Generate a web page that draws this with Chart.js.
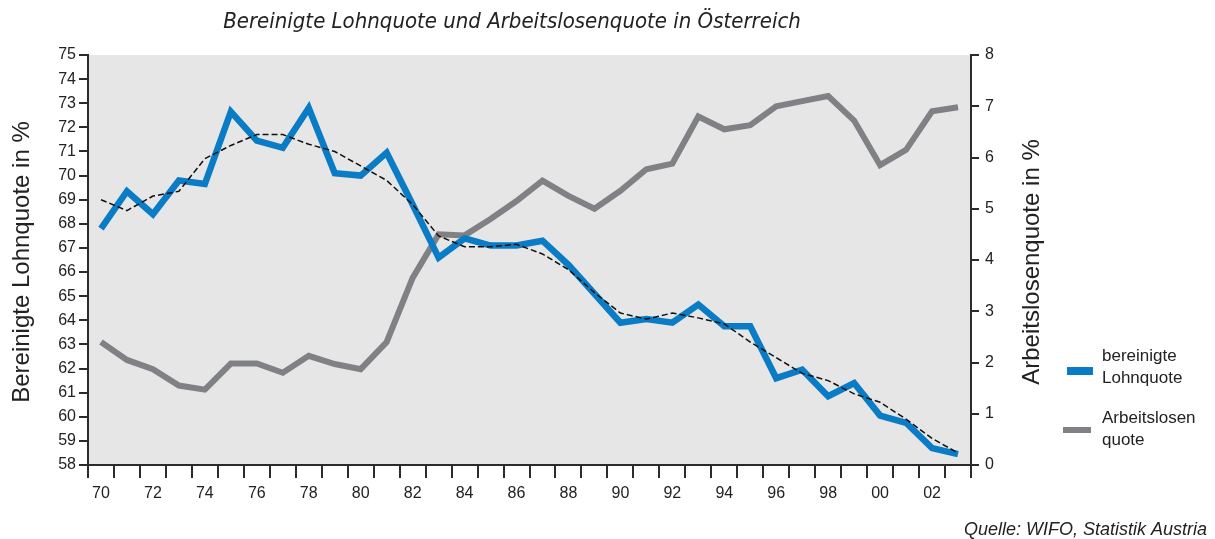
<!DOCTYPE html>
<html>
<head>
<meta charset="utf-8">
<script src="https://cdn.jsdelivr.net/npm/chart.js@4/dist/chart.umd.min.js"></script>
<style>
  html, body { margin: 0; padding: 0; background: #fff; }
  canvas { display: block; }
</style>
</head>
<body>
<canvas id="chart" width="1215" height="539"></canvas>
<script>
// ── Data ───────────────────────────────────────────────────────────────────
const years = ['70','71','72','73','74','75','76','77','78','79',
               '80','81','82','83','84','85','86','87','88','89',
               '90','91','92','93','94','95','96','97','98','99',
               '00','01','02','03'];

// bereinigte Lohnquote, % (left axis)
const lohnquote = [67.8, 69.35, 68.4, 69.8, 69.65, 72.65, 71.45, 71.15, 72.8, 70.1,
                   70.0, 70.95, 68.8, 66.6, 67.4, 67.1, 67.1, 67.3, 66.3, 65.1,
                   63.9, 64.05, 63.9, 64.65, 63.75, 63.75, 61.6, 61.95, 60.85, 61.4,
                   60.05, 59.75, 58.7, 58.45];

// trend of the Lohnquote (dashed, left axis)
const lohnTrend = [69.0, 68.55, 69.15, 69.35, 70.7, 71.25, 71.7, 71.7, 71.3, 71.0,
                   70.4, 69.8, 68.8, 67.5, 67.05, 67.05, 67.15, 66.75, 66.1, 65.15,
                   64.3, 64.05, 64.3, 64.1, 63.85, 63.1, 62.45, 61.8, 61.5, 60.95,
                   60.6, 59.9, 59.1, 58.5];

// Arbeitslosenquote, % (right axis)
const alq = [2.4, 2.05, 1.87, 1.55, 1.47, 1.98, 1.98, 1.8, 2.13, 1.97,
             1.87, 2.4, 3.65, 4.5, 4.48, 4.8, 5.15, 5.55, 5.25, 5.0,
             5.35, 5.77, 5.88, 6.8, 6.55, 6.63, 7.0, 7.1, 7.2, 6.72,
             5.85, 6.15, 6.9, 6.98];

// ── Look ───────────────────────────────────────────────────────────────────
const BLUE = '#0a7cc6';
const GREY = '#808184';
const INK  = '#222';
const AXIS = '#2b2b2b';
const PLOT_BG = '#e6e6e6';
const SANS = "'Liberation Sans', Arial, sans-serif";
const COND = "'DejaVu Sans Condensed', 'Liberation Sans Narrow', sans-serif";

// plot box in canvas pixels
const BOX = { left: 88, right: 971, top: 55, bottom: 465 };
const W = 1215, H = 539;

// fill the plot area, then all the free text around it
const decor = {
  id: 'decor',
  beforeDraw(chart) {
    const { ctx, chartArea: a } = chart;
    ctx.save();
    ctx.fillStyle = PLOT_BG;
    ctx.fillRect(a.left, a.top, a.right - a.left, a.bottom - a.top);
    ctx.restore();
  },
  afterDraw(chart) {
    const { ctx } = chart;
    ctx.save();
    ctx.fillStyle = INK;

    // title
    ctx.font = "italic 22px " + COND;
    ctx.textAlign = 'center';
    ctx.textBaseline = 'middle';
    ctx.fillText('Bereinigte Lohnquote und Arbeitslosenquote in Österreich', 512, 22);

    // axis titles, both reading bottom-to-top
    ctx.font = "24px " + SANS;
    ctx.save();
    ctx.translate(22, 262);
    ctx.rotate(-Math.PI / 2);
    ctx.fillText('Bereinigte Lohnquote in %', 0, 0);
    ctx.restore();
    ctx.save();
    ctx.translate(1032, 262);
    ctx.rotate(-Math.PI / 2);
    ctx.fillText('Arbeitslosenquote in %', 0, 0);
    ctx.restore();

    // legend
    ctx.fillStyle = BLUE;
    ctx.fillRect(1067, 367, 26, 8);
    ctx.fillStyle = GREY;
    ctx.fillRect(1063, 427, 28, 6);
    ctx.fillStyle = INK;
    ctx.font = "17px " + SANS;
    ctx.textAlign = 'left';
    ctx.fillText('bereinigte', 1102, 356);
    ctx.fillText('Lohnquote', 1102, 378);
    ctx.fillText('Arbeitslosen', 1102, 418);
    ctx.fillText('quote', 1102, 440);

    // source
    ctx.font = "italic 18px " + SANS;
    ctx.textAlign = 'right';
    ctx.fillText('Quelle: WIFO, Statistik Austria', 1207, 530);
    ctx.restore();
  }
};

const tickFont = { family: SANS, size: 16 };

new Chart(document.getElementById('chart'), {
  type: 'line',
  data: {
    labels: years,
    datasets: [
      {
        label: 'Trend',
        data: lohnTrend,
        yAxisID: 'y',
        borderColor: '#111',
        borderWidth: 1.5,
        borderDash: [6, 3],
        pointRadius: 0,
        tension: 0,
        order: 1,
      },
      {
        label: 'bereinigte Lohnquote',
        data: lohnquote,
        yAxisID: 'y',
        borderColor: BLUE,
        borderWidth: 6.5,
        borderJoinStyle: 'miter',
        pointRadius: 0,
        tension: 0,
        order: 2,
      },
      {
        label: 'Arbeitslosenquote',
        data: alq,
        yAxisID: 'y2',
        borderColor: GREY,
        borderWidth: 6,
        borderJoinStyle: 'miter',
        pointRadius: 0,
        tension: 0,
        order: 3,
      },
    ],
  },
  options: {
    responsive: false,
    animation: false,
    devicePixelRatio: 1,
    layout: { padding: { top: BOX.top, left: 0, right: 0, bottom: 0 } },
    plugins: {
      legend: { display: false },
      tooltip: { enabled: false },
      title: { display: false },
    },
    scales: {
      x: {
        type: 'category',
        offset: true,
        grid: {
          offset: true,
          drawOnChartArea: false,
          color: AXIS,
          lineWidth: 2,
          tickLength: 13,
        },
        border: { display: true, color: AXIS, width: 2 },
        ticks: {
          autoSkip: false,
          maxRotation: 0,
          color: INK,
          font: tickFont,
          padding: 6,
          callback(value, index) {
            return index % 2 === 0 ? this.getLabelForValue(value) : '';
          },
        },
        afterFit(s) { s.height = H - BOX.bottom; },
      },
      y: {
        position: 'left',
        min: 58,
        max: 75,
        grid: {
          drawOnChartArea: false,
          color: AXIS,
          lineWidth: 2,
          tickLength: 9,
        },
        border: { display: true, color: AXIS, width: 2 },
        ticks: { stepSize: 1, color: INK, font: tickFont, padding: 3 },
        afterFit(s) { s.width = BOX.left; },
      },
      y2: {
        position: 'right',
        min: 0,
        max: 8,
        grid: {
          drawOnChartArea: false,
          color: AXIS,
          lineWidth: 2,
          tickLength: 8,
        },
        border: { display: true, color: AXIS, width: 2 },
        ticks: { stepSize: 1, color: INK, font: tickFont, padding: 6 },
        afterFit(s) { s.width = W - BOX.right; },
      },
    },
  },
  plugins: [decor],
});
</script>
</body>
</html>
